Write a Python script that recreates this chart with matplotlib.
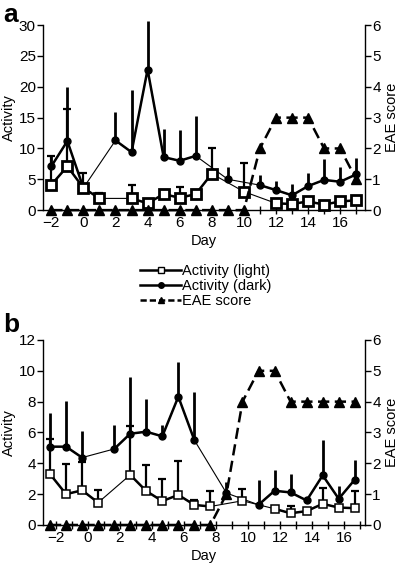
import numpy as np
import matplotlib
matplotlib.use("Agg")
import matplotlib.pyplot as plt
from matplotlib.lines import Line2D

plt.rcParams['font.family'] = ['Liberation Sans', 'DejaVu Sans']
plt.rcParams['axes.unicode_minus'] = True

nan = np.nan

# panel a: days -2 .. 17
days_a = [-2, -1, 0, 1, 2, 3, 4, 5, 6, 7, 8, 9, 10, 11, 12, 13, 14, 15, 16, 17]
light_a = [4.1, 7.1, 3.6, 1.9, nan, 1.9, 1.1, 2.6, 2.0, 2.6,
           5.9, nan, 3.0, nan, 1.1, 1.0, 1.4, 0.9, 1.4, 1.6]
light_a_top = [8.8, 16.4, 6.1, 2.8, nan, 4.1, nan, 3.2, 3.7, 3.3,
               10.0, nan, 7.6, nan, nan, nan, nan, nan, nan, nan]
dark_a = [7.1, 11.2, 3.6, nan, 11.3, 9.4, 22.8, 8.6, 8.0, 8.8,
          nan, 5.0, nan, 4.05, 3.25, 2.4, 3.9, 4.9, 4.6, 5.8]
dark_a_top = [8.8, 20.0, nan, nan, 15.9, 19.4, 30.7, 13.2, 13.0, 15.3,
              nan, 7.0, nan, 5.7, 4.8, 4.3, 6.0, 8.3, 7.0, 8.4]
eae_a = [0, 0, 0, 0, 0, 0, 0, 0, 0, 0, 0, 0, 0, 2, 3, 3, 3, 2, 2, 1]

# panel b
days_b = [-2.35, -1.35, -0.35, 0.65, 1.65, 2.65, 3.65, 4.65, 5.65, 6.65,
          7.65, 8.65, 9.65, 10.65, 11.65, 12.65, 13.65, 14.65, 15.65, 16.65]
light_b = [3.3, 2.0, 2.25, 1.45, nan, 3.25, 2.2, 1.55, 1.95, 1.3,
           1.2, nan, 1.57, nan, 1.05, 0.76, 0.9, 1.37, 1.13, 1.09]
light_b_top = [5.6, 3.95, 4.1, 2.3, nan, 6.4, 3.9, 2.95, 4.15, 1.65,
               2.18, nan, 2.35, nan, nan, 1.2, nan, 2.4, nan, 2.18]
dark_b = [5.08, 5.08, 4.37, nan, 4.93, 5.92, 6.05, 5.75, 8.32, 5.5,
          nan, 2.07, nan, 1.31, 2.22, 2.11, 1.59, 3.22, 1.7, 2.94]
dark_b_top = [7.25, 8.05, 6.1, nan, 6.5, 9.6, 8.2, 6.5, 10.6, 8.6,
              nan, 2.8, nan, 2.94, 3.55, 3.31, nan, 5.5, 2.5, 4.2]
eae_b = [0, 0, 0, 0, 0, 0, 0, 0, 0, 0, 0, 1, 4, 5, 5, 4, 4, 4, 4, 4]

day_ticks = [-2, 0, 2, 4, 6, 8, 10, 12, 14, 16]
eae_ticks = [0, 1, 2, 3, 4, 5, 6]

FS = 10.5
TFS = 11


def draw_panel(ax, days, light, light_top, dark, dark_top, eae,
               yticks, xlim, sq_size, sq_lw):
    x = np.array(days, dtype=float)
    light = np.array(light, dtype=float)
    dark = np.array(dark, dtype=float)
    light_top = np.array(light_top, dtype=float)
    dark_top = np.array(dark_top, dtype=float)

    # thin lines bridging the missing days
    m = ~np.isnan(light)
    ax.plot(x[m], light[m], color='k', lw=0.8, zorder=2)
    m = ~np.isnan(dark)
    ax.plot(x[m], dark[m], color='k', lw=0.8, zorder=2)

    # error bars (upper only)
    m = ~np.isnan(dark_top)
    ax.errorbar(x[m], dark[m], yerr=[np.zeros(m.sum()), dark_top[m] - dark[m]],
                fmt='none', ecolor='k', elinewidth=2.0, capsize=0, zorder=3,
                clip_on=False)
    m = ~np.isnan(light_top)
    ax.errorbar(x[m], light[m], yerr=[np.zeros(m.sum()), light_top[m] - light[m]],
                fmt='none', ecolor='k', elinewidth=1.6, capsize=3, capthick=1.6,
                zorder=3, clip_on=False)

    # thick lines between consecutive days
    ax.plot(x, dark, color='k', lw=1.8, marker='o', ms=5, mfc='k', mec='k',
            zorder=4, clip_on=False)
    ax.plot(x, light, color='k', lw=1.8, marker='s', ms=sq_size, mfc='white',
            mec='k', mew=sq_lw, zorder=5, clip_on=False)

    ax.set_xlim(*xlim)
    ax.set_ylim(0, yticks[-1])
    ax.set_yticks(yticks)
    ax.set_xticks(day_ticks)
    ax.set_xticks(np.arange(-1, 18, 2), minor=True)
    ax.spines['top'].set_visible(False)
    ax.spines['right'].set_visible(False)
    ax.spines['left'].set_linewidth(1.0)
    ax.spines['bottom'].set_linewidth(1.0)
    ax.tick_params(axis='y', direction='out', length=4, width=1, labelsize=TFS, pad=1)
    ax.tick_params(axis='x', which='both', direction='inout', length=6, width=1,
                   labelsize=TFS, pad=1)
    ax.set_ylabel('Activity', fontsize=FS, labelpad=2)

    ax2 = ax.twinx()
    ax2.plot(x, eae, color='k', lw=1.8, ls=(0, (4.5, 2.2)), marker='^', ms=6.5,
             mfc='k', mec='k', zorder=6, clip_on=False)
    ax2.set_ylim(0, 6)
    ax2.set_yticks(eae_ticks)
    for s in ['top', 'left', 'bottom']:
        ax2.spines[s].set_visible(False)
    ax2.spines['right'].set_linewidth(1.0)
    ax2.tick_params(axis='y', direction='out', length=4, width=1, labelsize=TFS, pad=1)
    ax2.set_ylabel('EAE score', fontsize=FS, labelpad=3)
    return ax2


fig = plt.figure(figsize=(4.0, 5.71), dpi=100)

ax_a = fig.add_axes([0.107, 0.632, 0.806, 0.324])
draw_panel(ax_a, days_a, light_a, light_a_top, dark_a, dark_a_top, eae_a,
           [0, 5, 10, 15, 20, 25, 30], (-2.53, 17.56), 7, 2.0)
ax_a.set_xlabel('Day', fontsize=FS, labelpad=3)

ax_b = fig.add_axes([0.107, 0.0806, 0.806, 0.324])
draw_panel(ax_b, days_b, light_b, light_b_top, dark_b, dark_b_top, eae_b,
           [0, 2, 4, 6, 8, 10, 12], (-2.8, 17.3), 6, 1.1)
ax_b.set_xlabel('Day', fontsize=FS, labelpad=3)

fig.text(0.008, 0.973, 'a', fontsize=19, fontweight='bold', va='center')
fig.text(0.008, 0.43, 'b', fontsize=19, fontweight='bold', va='center')

handles = [
    Line2D([], [], color='k', lw=1.8, marker='s', ms=5, mfc='white', mec='k', mew=1),
    Line2D([], [], color='k', lw=1.8, marker='o', ms=4, mfc='k', mec='k'),
    Line2D([], [], color='k', lw=1.8, ls=(0, (2.5, 1.2)), marker='^', ms=5,
           mfc='k', mec='k'),
]
labels = ['Activity (light)', 'Activity (dark)', 'EAE score']
fig.legend(handles, labels, loc='center', bbox_to_anchor=(0.515, 0.499),
           frameon=False, fontsize=FS, handlelength=2.8, handletextpad=0.1,
           labelspacing=0.05, borderpad=0)

fig.savefig('out.png', dpi=100)
